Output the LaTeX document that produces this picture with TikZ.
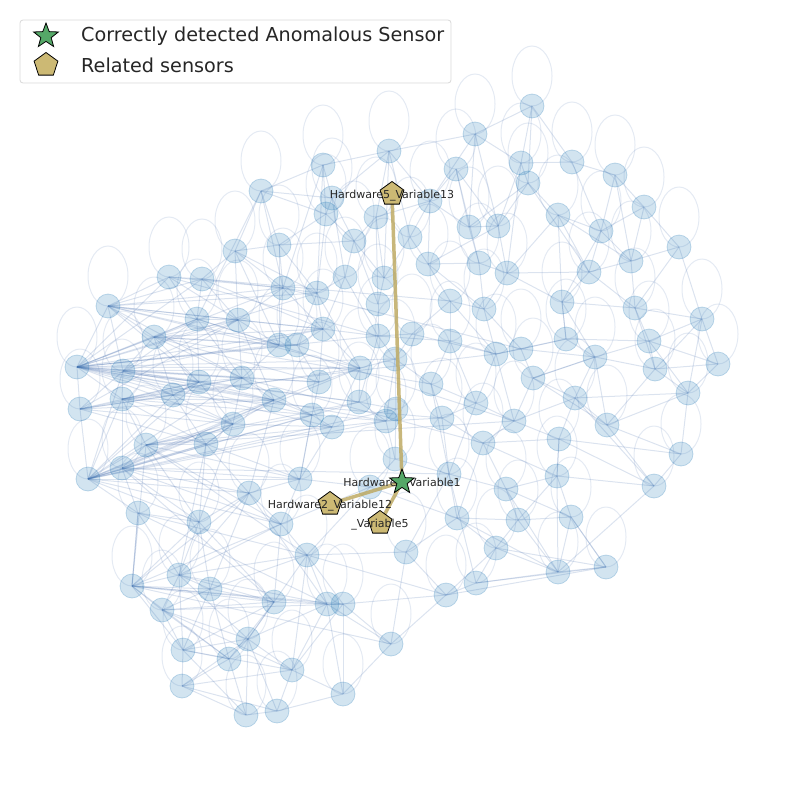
\documentclass[tikz,border=0pt]{standalone}
\usepackage{fontspec}
\setmainfont{DejaVu Sans}
\usetikzlibrary{shapes.geometric}
\definecolor{nodeblue}{RGB}{31,119,180}
\definecolor{edgeblue}{RGB}{76,114,176}
\definecolor{goldc}{RGB}{204,185,116}
\definecolor{goldline}{RGB}{190,170,100}
\definecolor{greenc}{RGB}{85,168,104}
\definecolor{txt}{RGB}{38,38,38}
\tikzset{
  sensor/.style={circle,minimum size=24pt,inner sep=0pt,fill=nodeblue,fill opacity=0.2,draw=nodeblue,draw opacity=0.25,line width=0.8pt},
  link/.style={draw=edgeblue,draw opacity=0.2,line width=1pt},
  selfloop/.style={draw=edgeblue,draw opacity=0.15,line width=1pt},
  hot/.style={draw=goldline,draw opacity=0.85,line width=3.5pt},
  related/.style={regular polygon,regular polygon sides=5,minimum size=25pt,inner sep=0pt,fill=goldc,draw=black,line width=0.8pt},
  anomal/.style={star,star points=5,star point ratio=2.4,minimum size=26pt,inner sep=0pt,fill=greenc,draw=black,line width=0.8pt},
  lab/.style={font=\fontsize{11}{13}\selectfont,text=txt,inner sep=0pt},
  legtxt/.style={font=\fontsize{19.2}{22}\selectfont,text=txt,anchor=west,inner sep=0pt}
}
\begin{document}
\begin{tikzpicture}[x=1pt,y=-1pt]
\useasboundingbox (0,0) rectangle (794,790);
% sensor nodes
\foreach \i/\x/\y in {1/532/106,2/475/134,3/389/151,4/323/165,5/456/169,6/521/163,7/572/162,8/528/183,9/615/175,10/261/191,
11/332/198,12/430/201,13/326/214,14/376/217,15/469/227,16/498/226,17/558/215,18/644/207,19/601/231,20/235/251,
21/279/245,22/354/241,23/410/237,24/679/247,25/169/277,26/202/279,27/345/277,28/384/278,29/428/264,30/479/263,
31/507/273,32/589/272,33/631/261,34/108/306,35/283/288,36/317/293,37/378/304,38/450/301,39/484/309,40/562/302,
41/635/308,42/702/319,43/154/337,44/197/319,45/238/320,46/323/329,47/378/336,48/412/334,49/450/341,50/279/345,
51/297/345,52/566/339,53/649/341,54/77/367,55/123/371,56/199/382,57/242/378,58/360/368,59/395/359,60/496/354,
61/521/349,62/595/357,63/655/369,64/718/364,65/173/395,66/122/399,67/80/409,68/274/400,69/319/382,70/431/384,
71/533/378,72/359/402,73/396/409,74/312/415,75/332/427,76/386/421,77/442/418,78/476/403,79/514/421,80/575/398,
81/688/393,82/233/424,83/146/445,84/206/444,85/483/443,86/559/439,87/607/425,88/122/468,89/88/479,90/395/459,
91/300/479,92/449/474,93/557/476,94/681/454,95/249/493,96/506/489,97/654/486,98/138/513,99/199/522,100/281/524,
101/457/518,102/518/520,103/571/517,104/307/555,105/406/552,106/496/548,107/132/586,108/179/575,109/162/610,110/210/589,
111/274/602,112/327/604,113/343/604,114/446/595,115/476/583,116/558/572,117/606/567,118/183/650,119/229/659,120/248/639,
121/292/670,122/391/644,123/182/686,124/246/715,125/277/711,126/343/694,127/370/487}
  \coordinate (n\i) at (\x,\y);
% connectors
\foreach \a/\b in {1/2,1/6,1/7,6/8,6/7,7/9,7/19,9/18,9/33,18/24,18/19,19/33,24/33,24/41,17/32,17/19,8/17,2/12,2/3,3/4,
3/14,4/13,5/12,5/15,12/23,15/16,16/29,15/30,30/31,31/32,32/40,40/52,33/41,41/53,42/53,42/64,42/81,53/63,63/62,62/80,
80/87,87/97,81/94,94/97,64/81,52/61,61/71,60/61,71/80,60/78,78/79,79/86,86/93,93/103,85/86,85/96,96/102,102/103,102/106,101/102,
101/92,92/77,77/70,70/59,59/47,47/48,48/38,38/39,39/30,49/60,49/70,28/37,27/36,22/27,22/13,23/28,14/22,29/38,13/11,11/10,
10/20,20/21,21/35,35/36,35/50,50/51,51/46,46/47,36/46,25/26,25/34,26/44,34/43,43/44,44/45,45/57,43/54,54/55,54/67,55/66,
66/65,65/56,56/57,57/68,68/74,69/58,58/72,72/76,76/73,73/59,74/75,75/82,82/84,84/83,83/88,88/89,89/67,83/66,88/98,98/99,
99/95,95/91,91/100,100/104,104/105,105/101,105/114,114/115,115/106,106/116,116/117,117/103,116/93,107/108,108/109,109/110,110/111,111/112,112/113,
113/114,111/120,120/119,119/118,118/123,123/124,124/125,125/126,126/121,121/120,122/126,122/113,122/105,107/98,108/99,118/109,90/76,90/92,127/90,
127/91,127/100,54/45,54/58,54/69,54/82,54/34,54/57,89/74,89/72,89/57,89/65,89/83,67/45,67/57,55/58,66/76,2/15,4/35,10/44,
26/46,20/50,21/36,107/111,108/112,123/119,121/113,98/104,99/110,95/112,100/111,104/114,104/113,114/117,115/117,106/114,96/116,92/115,101/116,85/101,
85/79,78/92,73/90,75/91,74/91,77/85,77/78,70/78,48/60,38/49,39/31,29/30,31/40,40/62,52/62,53/64,63/81,63/87,80/86,62/71,
71/79,17/40,16/31,8/16,12/14,3/12,3/23,14/37,37/47,28/22,27/46,46/69,69/68,68/82,57/69,56/65,44/56,43/55,34/55,25/44,
20/45,21/50,11/22,13/36,36/51,51/58,50/57,58/59,72/73,75/76,76/77,59/48,47/49,92/96,96/93,93/86,102/93,106/101,105/92,
122/114,126/112,124/119,125/121,118/108,109/107,119/110,110/95,95/84,84/82,99/84,88/84,98/107,91/84,91/74,100/95,104/112,127/101,127/104,
44/79,34/58,25/47,43/70,83/79,88/92,65/77,57/85,66/60,26/38,35/61,55/72,54/76,89/76,67/58,43/69,34/46,83/104,88/111,98/112,
107/122,109/113,3/28,4/36,10/35,20/36,11/27,5/30,12/29,2/16,6/31,8/32,17/33,19/40,41/42,53/81,62/87,80/97,86/94,93/97,
103/117,116/97,71/87,60/79,49/78,38/60,70/92,59/76,47/72,58/75,69/74,68/95,82/99,84/108,83/107,89/98,66/88,55/65,45/50,57/74,
54/44,54/56,54/65,54/66,54/68,54/72,54/74,54/75,54/46,54/50,54/51,54/36,54/35,54/26,54/25,54/59,54/47,
89/84,89/82,89/95,89/68,89/75,89/58,89/73,89/66,89/55,89/56,89/99,89/91,89/100,
34/44,34/45,34/26,34/57,34/56,34/50,34/35,34/36,43/45,43/56,43/57,43/65,43/50,43/51,43/46,
83/82,83/68,83/75,83/74,83/91,83/72,83/99,83/100,88/82,88/95,88/68,88/99,88/100,88/91,
67/55,67/65,67/56,67/68,67/82,67/84,55/44,55/45,55/57,55/56,55/68,55/46,66/56,66/57,66/68,66/82,66/84,
107/110,107/118,107/119,107/112,107/113,107/99,107/95,107/100,108/110,108/111,108/120,108/95,108/100,108/104,
109/111,109/119,109/120,109/121,118/110,118/111,118/120,118/121,118/124,123/120,123/121,123/125,
20/35,20/26,21/22,10/13,10/21,25/35,25/45,26/45,26/35,44/50,45/46,45/35,
32/41,32/33,40/41,52/53,52/40,61/62,60/52,39/60,39/61,71/62,80/81,87/94,86/97,79/80,85/93,96/103,102/116,103/116,106/117,115/116,
120/112,120/104,121/104,121/112,124/120,125/120,126/113,122/112,119/111,110/104,99/111,98/108,
65/82,65/84,56/68,56/82,57/82,44/57,45/68,46/58,51/69,36/58,35/46,27/47,22/37,14/28,13/21,4/10,4/11,3/11,
29/39,23/29,12/15,5/16,2/6,1/8,6/16,8/15,17/31,19/32,9/19,18/33,24/42,41/63,53/62,64/63,81/87,42/63}
  \path[link] (n\a) -- (n\b);
% self loops
\foreach \i in {1,...,127}
  \path[selfloop] ([yshift=30pt]n\i) ellipse [x radius=20pt, y radius=30pt];
% node discs
\foreach \i in {1,...,127}
  \node[sensor] at (n\i) {};
% highlighted sensors
\coordinate (s) at (402,482);
\coordinate (p13) at (392,194);
\coordinate (p12) at (330,504);
\coordinate (p5) at (380,523);
\path[hot] (s) -- (p13);
\path[hot] (s) -- (p12);
\path[hot] (s) -- (p5);
\node[related] (m13) at (p13) {};
\node[related] (m12) at (p12) {};
\node[related] (m5) at (p5) {};
\node[lab] (l13) at ([yshift=-1.5pt]p13) {Hardware5\_Variable13};
\node[lab] (l12) at ([yshift=-1.5pt]p12) {Hardware2\_Variable12};
\node[lab] (l5) at ([yshift=-1.5pt]p5) {\_Variable5};
\node[lab] (l1) at ([yshift=-1.5pt]s) {Hardware5\_Variable1};
\node[anomal] (ms) at (s) {};
% legend
\draw[rounded corners=3pt,draw=black!15,fill=white,fill opacity=0.8,line width=0.8pt] (20,20) rectangle (451,83);
\node[anomal] (legstar) at (46,36) {};
\node[related] (legpent) at (46,65) {};
\node[legtxt] (legt1) at (81,36) {Correctly detected Anomalous Sensor};
\node[legtxt] (legt2) at (81,65) {Related sensors};
\end{tikzpicture}
\end{document}
